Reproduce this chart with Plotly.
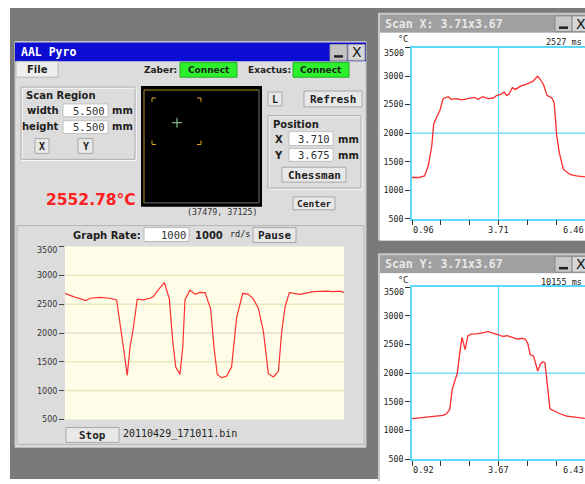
import plotly.graph_objects as go

W, H = 585, 484

# ---------------- data ----------------
main_sample = [0, 3.0, 7.5, 9.0, 12.5, 16.1, 18.5, 19.7, 21.1, 22.3, 23.3, 24.5, 25.9, 28.1, 30.5, 31.7,
               32.9, 35.6, 37.4, 38.6, 39.7, 41.2, 42.2, 43.0, 44.8, 46.6, 48.4, 50.2, 52.2, 53.4, 54.6,
               56.2, 57.9, 59.7, 61.5, 63.7, 65.7, 67.5, 69.3, 71.1, 72.9, 74.7, 76.5, 77.7, 78.9, 80.4,
               84.2, 89.0, 93.8, 96.2, 98.6, 100]
main_temp = [2688, 2631, 2563, 2602, 2619, 2602, 2574, 2205, 1693, 1267, 1750, 2091, 2585, 2574, 2602, 2631,
             2716, 2875, 2591, 1864, 1409, 1284, 1750, 2574, 2744, 2670, 2705, 2699, 2420, 1750, 1278,
             1227, 1250, 1409, 2261, 2688, 2670, 2591, 2432, 2034, 1295, 1239, 1341, 2034, 2460, 2699,
             2670, 2716, 2727, 2716, 2727, 2705]

scanx_pos = [0.96, 1.17, 1.36, 1.48, 1.59, 1.65, 1.74, 1.85, 1.95, 2.11, 2.21, 2.37, 2.53, 2.74, 2.95,
             3.05, 3.21, 3.37, 3.54, 3.66, 3.78, 3.89, 3.97, 4.04, 4.15, 4.25, 4.41, 4.62, 4.81, 4.95,
             5.04, 5.14, 5.25, 5.40, 5.48, 5.56, 5.64, 5.77, 5.98, 6.19, 6.40, 6.46]
scanx_temp = [1222, 1222, 1251, 1436, 1783, 2159, 2274, 2402, 2604, 2639, 2592, 2604, 2581, 2598, 2627,
              2592, 2639, 2604, 2615, 2662, 2679, 2719, 2662, 2679, 2795, 2766, 2824, 2864, 2910, 2997,
              2939, 2852, 2662, 2621, 2535, 1957, 1668, 1367, 1275, 1251, 1234, 1232]

scany_pos = [0.92, 1.13, 1.34, 1.55, 1.76, 1.91, 2.02, 2.12, 2.20, 2.28, 2.36, 2.44, 2.51, 2.57, 2.61,
             2.70, 2.80, 2.96, 3.12, 3.25, 3.32, 3.43, 3.56, 3.67, 3.80, 3.95, 4.11, 4.27, 4.42, 4.52,
             4.60, 4.68, 4.79, 4.86, 4.92, 5.00, 5.08, 5.15, 5.20, 5.26, 5.31, 5.42, 5.63, 5.84, 6.05,
             6.34, 6.42]
scany_temp = [1206, 1217, 1234, 1246, 1251, 1263, 1292, 1366, 1722, 1865, 1997, 2353, 2622, 2496, 2410,
              2651, 2680, 2685, 2697, 2708, 2726, 2708, 2697, 2668, 2640, 2651, 2622, 2594, 2605, 2594,
              2525, 2324, 2295, 2152, 2037, 2152, 2198, 2181, 1951, 1664, 1378, 1349, 1292, 1251, 1234,
              1217, 1212]

temp_ticks = [500, 1000, 1500, 2000, 2500, 3000, 3500]
temp_labels = ["500", "1000", "1500", "2000", "2500", "3000", "3500"]
temp_range = [500, 3500]
main_grid = [1000, 1500, 2000, 2500, 3000]
main_grid_colors = ["#e3dbac", "#e3dbac", "#cfcfc8", "#e3dbac", "#e3dbac"]

scanx_range = [0.96, 6.46]
scanx_ticks = [0.96, 1.877, 2.793, 3.71, 4.627, 5.543, 6.46]
scanx_labels = ["0.96", "3.71", "6.46"]
scanx_cross = (3.71, 2000)

scany_range = [0.92, 6.425]
scany_ticks = [0.92, 1.8375, 2.755, 3.6725, 4.59, 5.5075, 6.425]
scany_labels = ["0.92", "3.67", "6.43"]
scany_label_pos = [0.92, 3.6725, 6.425]
scany_cross = (3.6725, 2000)

# ---------------- helpers ----------------
shapes, annotations = [], []


def fx(v):
    return v / W


def fy(v):
    return 1 - v / H


def box(x0, y0, x1, y1, fill=None, line=None, lw=1):
    shapes.append(dict(type="rect", xref="paper", yref="paper",
                       x0=fx(x0), x1=fx(x1), y0=fy(y1), y1=fy(y0),
                       fillcolor=fill or "rgba(0,0,0,0)",
                       line=dict(color=line or "rgba(0,0,0,0)", width=lw if line else 0),
                       layer="below"))


def seg(x0, y0, x1, y1, color, lw=1):
    shapes.append(dict(type="line", xref="paper", yref="paper",
                       x0=fx(x0), x1=fx(x1), y0=fy(y0), y1=fy(y1),
                       line=dict(color=color, width=lw), layer="below"))


def label(x, y, s, size=10, color="#1e1e1e", bold=False, mono=False, anchor="left"):
    fam = "DejaVu Sans Mono" if mono else "DejaVu Sans"
    annotations.append(dict(xref="paper", yref="paper", x=fx(x), y=fy(y),
                            text=f"<b>{s}</b>" if bold else s, showarrow=False,
                            xanchor=anchor, yanchor="middle", borderpad=0,
                            font=dict(family=fam, size=size, color=color)))


def button(x0, y0, x1, y1, s, size=11, mono=True):
    box(x0, y0, x1, y1, fill="#e8e8e8", line="#a8a8a8")
    label((x0 + x1) / 2, (y0 + y1) / 2 + 0.5, s, size, "#1e1e1e", bold=True, mono=mono, anchor="center")


# ---------------- desktop ----------------
box(10, 8, 585, 484, fill="#7a7a7a")

# ---------------- main window ----------------
box(15, 42, 366, 452, fill="#dcdcdc", line="#c4c4c4")
box(15, 43, 366, 62, fill="#0c0cd2")
label(20, 52.5, "AAL Pyro", 11.5, "#ffffff", bold=True, mono=True)
box(330, 45, 347, 61, fill="#c4c4c4", line="#9a9a9a")
seg(334, 57, 343, 57, "#222222", 2.5)
box(348, 45, 365, 61, fill="#d6d6d6", line="#9a9a9a")
label(356.5, 53, "X", 14, "#111111", anchor="center")

box(16, 62, 58, 78, fill="#eeeeee", line="#b8b8b8")
label(37, 70.5, "File", 10, bold=True, anchor="center")
label(143, 71, "Zaber:", 9, bold=True)
box(180, 63, 237, 78, fill="#2cf02c", line="#22b022")
label(208.5, 71, "Connect", 9, bold=True, anchor="center")
label(247, 71, "Exactus:", 9, bold=True)
box(293, 63, 349, 78, fill="#2cf02c", line="#22b022")
label(321, 71, "Connect", 9, bold=True, anchor="center")

# scan region group
box(22, 89, 136, 162, line="#ffffff")
box(21, 88, 135, 161, line="#ababab")
label(25, 97, "Scan Region", 10, bold=True)
label(60, 112, "width", 10, bold=True, anchor="right")
box(63, 105, 108, 118, fill="#ffffff", line="#c0c0c0")
label(106, 112, "5.500", 10.5, "#333333", mono=True, anchor="right")
label(111, 112, "mm", 10, bold=True)
label(60, 128, "height", 10, bold=True, anchor="right")
box(63, 122, 108, 135, fill="#ffffff", line="#c0c0c0")
label(106, 128, "5.500", 10.5, "#333333", mono=True, anchor="right")
label(111, 128, "mm", 10, bold=True)
button(35, 140, 49, 155, "X", 10)
button(78, 140, 93, 155, "Y", 10)

label(45, 202, "2552.78°C", 15.5, "#ff2020", bold=True)

# black position display
box(141, 87, 262, 209, fill="#000000")
seg(144, 91, 259, 91, "#b09020")
seg(144, 91, 144, 205, "#b09020")
seg(259, 91, 259, 205, "#707070")
seg(144, 205, 259, 205, "#707070")
bc = "#e0a820"
seg(152, 99, 156, 99, bc); seg(152, 99, 152, 103, bc)
seg(197, 99, 201, 99, bc); seg(201, 99, 201, 103, bc)
seg(152, 146, 156, 146, bc); seg(152, 142, 152, 146, bc)
seg(197, 146, 201, 146, bc); seg(201, 142, 201, 146, bc)
seg(172, 124, 182, 124, "#9be09b"); seg(177, 119, 177, 129, "#9be09b")
label(222.5, 214, "(37479, 37125)", 8.4, "#333333", mono=True, anchor="center")

button(268, 93, 282, 107, "L", 10)
button(304, 92, 362, 108, "Refresh", 11)
box(269, 118, 362, 191, line="#ffffff")
box(268, 117, 361, 190, line="#ababab")
label(272, 126, "Position", 10, bold=True)
label(278.5, 141, "X", 10, bold=True, anchor="center")
box(289, 133, 333, 147, fill="#ffffff", line="#c0c0c0")
label(331, 140, "3.710", 10.5, "#333333", mono=True, anchor="right")
label(337, 141, "mm", 10, bold=True)
label(278.5, 157, "Y", 10, bold=True, anchor="center")
box(289, 150, 333, 163, fill="#ffffff", line="#c0c0c0")
label(331, 157, "3.675", 10.5, "#333333", mono=True, anchor="right")
label(337, 157, "mm", 10, bold=True)
button(282, 169, 346, 184, "Chessman", 11)
button(293, 199, 335, 212, "Center", 9.5)

# lower panel
box(17, 228, 364, 449, fill="#dcdcdc", line="#b4b4b4")
label(72, 238, "Graph Rate:", 10, bold=True)
box(144, 230, 189, 244, fill="#ffffff", line="#b8b8b8")
label(187, 237.5, "1000", 10.5, "#333333", mono=True, anchor="right")
label(194, 238, "1000", 10, bold=True)
label(229, 236.5, "rd/s", 8.5, "#222222", mono=True)
button(253, 230, 296, 245, "Pause", 11)
box(65, 249, 344, 424, fill="#fffde8")
button(66, 432, 119, 447, "Stop", 11)
label(122, 439, "20110429_171011.bin", 10, "#222222", mono=True)

# main gridlines
for gv, gc in zip(main_grid, main_grid_colors):
    shapes.append(dict(type="line", xref="x domain", yref="y", x0=0, x1=1, y0=gv, y1=gv,
                       line=dict(color=gc, width=1), layer="below"))

# ---------------- scan windows ----------------
def scan_window(top, title, ms, body_bottom):
    box(378, top, 592, body_bottom, fill="#c8c8c8")
    box(380, top + 2, 592, top + 20, fill="#a0a0a0")
    box(380, top + 20, 592, body_bottom, fill="#ffffff")
    label(384, top + 11, title, 11.5, "#e8e8e8", bold=True, mono=True)
    box(555, top + 3, 572, top + 19, fill="#c8c8c8", line="#888888")
    seg(559, top + 15, 568, top + 15, "#222222", 2.5)
    box(572, top + 3, 592, top + 19, fill="#d6d6d6", line="#888888")
    label(580.5, top + 11, "X", 14, "#111111", anchor="center")
    label(409, top + 26.5, "°C", 8.5, "#222222", mono=True, anchor="right")
    label(583, top + 29, ms, 8.5, "#222222", mono=True, anchor="right")


scan_window(13, "Scan X: 3.71x3.67", "2527 ms", 243)
scan_window(256, "Scan Y: 3.71x3.67", "10155 ms", 486)

cyan = "#5cd8fa"
for xa, ya, cross in (("x2", "y2", scanx_cross), ("x3", "y3", scany_cross)):
    shapes.append(dict(type="line", xref=xa, yref=ya + " domain", x0=cross[0], x1=cross[0], y0=0, y1=1,
                       line=dict(color=cyan, width=1.2), layer="below"))
    shapes.append(dict(type="line", xref=xa + " domain", yref=ya, x0=0, x1=1, y0=cross[1], y1=cross[1],
                       line=dict(color=cyan, width=1.2), layer="below"))

for s, v, anc in zip(scanx_labels, [scanx_range[0], scanx_cross[0], scanx_range[1]], ["left", "center", "right"]):
    annotations.append(dict(xref="x2", yref="paper", x=v, y=fy(232), text=s, showarrow=False,
                            xanchor=anc, yanchor="middle", borderpad=0,
                            font=dict(family="DejaVu Sans Mono", size=8.6, color="#222222")))
for s, v, anc in zip(scany_labels, scany_label_pos, ["left", "center", "right"]):
    annotations.append(dict(xref="x3", yref="paper", x=v, y=fy(475), text=s, showarrow=False,
                            xanchor=anc, yanchor="middle", borderpad=0,
                            font=dict(family="DejaVu Sans Mono", size=8.6, color="#222222")))

# top y tick labels sit just below their tick (as in the Java plots)
tickfont_main = dict(family="DejaVu Sans", size=8, color="#333333")
tickfont_scan = dict(family="DejaVu Sans Mono", size=8.3, color="#222222")
for xa, ya, fnt in (("x", "y", tickfont_main), ("x2", "y2", tickfont_scan), ("x3", "y3", tickfont_scan)):
    annotations.append(dict(xref=xa + " domain", yref=ya, x=0, y=temp_ticks[-1], text=temp_labels[-1],
                            showarrow=False, xanchor="right", yanchor="top", xshift=-7, yshift=1,
                            borderpad=0, font=fnt))

# ---------------- traces ----------------
fig = go.Figure()
fig.add_trace(go.Scatter(x=main_sample, y=main_temp, mode="lines",
                         line=dict(color="#ff3030", width=1.2), xaxis="x", yaxis="y"))
fig.add_trace(go.Scatter(x=scanx_pos, y=scanx_temp, mode="lines",
                         line=dict(color="#ff2a2a", width=1.3), xaxis="x2", yaxis="y2"))
fig.add_trace(go.Scatter(x=scany_pos, y=scany_temp, mode="lines",
                         line=dict(color="#ff2a2a", width=1.3), xaxis="x3", yaxis="y3"))

shown_labels = temp_labels[:-1] + [""]
ycommon = dict(range=temp_range, tickvals=temp_ticks, ticktext=shown_labels, ticks="outside",
               ticklen=5, showgrid=False, zeroline=False)

fig.update_layout(
    width=W, height=H, margin=dict(l=0, r=0, t=0, b=0), autosize=False,
    paper_bgcolor="#ffffff", plot_bgcolor="rgba(0,0,0,0)",
    showlegend=False, hovermode=False,
    shapes=shapes, annotations=annotations,
    xaxis=dict(domain=[fx(65), fx(344)], range=[0, 100], visible=False, anchor="y", fixedrange=True),
    yaxis=dict(domain=[fy(424), fy(249)], tickcolor="#444444", tickfont=tickfont_main,
               showline=False, anchor="x", **ycommon),
    xaxis2=dict(domain=[fx(412), 1.0], range=scanx_range, tickvals=scanx_ticks, ticks="outside",
                ticklen=5, tickcolor="#333333", showticklabels=False, showgrid=False, zeroline=False,
                showline=True, linecolor=cyan, linewidth=1.5, mirror=True, anchor="y2"),
    yaxis2=dict(domain=[fy(221), fy(48)], tickcolor="#333333", tickfont=tickfont_scan,
                showline=True, linecolor=cyan, linewidth=1.5, anchor="x2", **ycommon),
    xaxis3=dict(domain=[fx(412), 1.0], range=scany_range, tickvals=scany_ticks, ticks="outside",
                ticklen=5, tickcolor="#333333", showticklabels=False, showgrid=False, zeroline=False,
                showline=True, linecolor=cyan, linewidth=1.5, mirror=True, anchor="y3"),
    yaxis3=dict(domain=[fy(464), fy(290)], tickcolor="#333333", tickfont=tickfont_scan,
                showline=True, linecolor=cyan, linewidth=1.5, anchor="x3", **ycommon),
)

fig.write_html("out.html", config={"responsive": False, "displayModeBar": False},
               post_script="document.body.style.margin='0px';document.body.style.overflow='hidden';")
